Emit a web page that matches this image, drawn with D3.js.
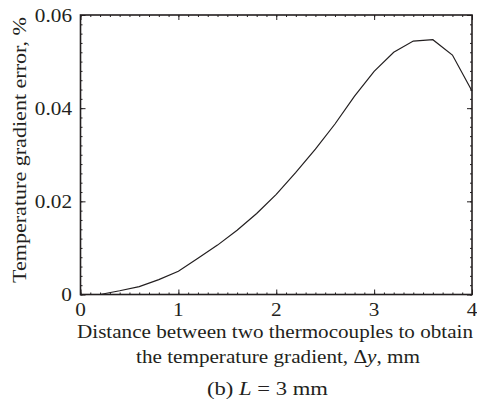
<!DOCTYPE html>
<html>
<head>
<meta charset="utf-8">
<script src="https://cdn.jsdelivr.net/npm/d3@7"></script>
<style>
  body { margin: 0; background: #fff; }
</style>
</head>
<body>
<div id="chart"></div>
<script>
// data
const spacing = [0.2, 0.4, 0.6, 0.8, 1.0, 1.2, 1.4, 1.6, 1.8, 2.0, 2.2, 2.4, 2.6, 2.8, 3.0, 3.2, 3.4, 3.6, 3.8, 4.0];
const gradError = [0, 0.0008, 0.0017, 0.0032, 0.0050, 0.0078, 0.0106, 0.0138, 0.0174, 0.0215, 0.0262, 0.0312, 0.0366, 0.0426, 0.0479, 0.0520, 0.0544, 0.0547, 0.0514, 0.0437];
const xTicks = [0, 1, 2, 3, 4];
const yTicks = [0, 0.02, 0.04, 0.06];
const yTickLabels = ["0", "0.02", "0.04", "0.06"];

const W = 477, H = 401;
const margin = { left: 80.5, right: 5, top: 15, bottom: 106.5 };
const ink = "#231f20";
const serif = "Liberation Serif, Times New Roman, serif";

const svg = d3.select("#chart").append("svg")
  .attr("width", W)
  .attr("height", H);

const x = d3.scaleLinear().domain([0, 4]).range([margin.left, W - margin.right]);
const y = d3.scaleLinear().domain([0, 0.06]).range([H - margin.bottom, margin.top]);

const minorX = d3.range(0, 4.0001, 0.1);
const minorY = d3.range(0, 0.06001, 0.002);

// the print font is wider than Liberation Serif, so stretch the text a bit
function widen(sel, k) {
  sel.each(function () {
    const w = this.getComputedTextLength();
    this.setAttribute("textLength", w * k);
    this.setAttribute("lengthAdjust", "spacingAndGlyphs");
  });
}
function fitTo(sel, w) {
  sel.attr("textLength", w).attr("lengthAdjust", "spacingAndGlyphs");
}

// minor + major ticks, inside, all four sides
function tickAxes(axisFn, scale, vals, size, transform) {
  svg.append("g")
    .attr("transform", transform)
    .call(axisFn(scale).tickValues(vals).tickSize(size).tickFormat(""))
    .call(g => g.select(".domain").remove())
    .call(g => g.selectAll("line").attr("stroke", ink).attr("stroke-width", 1));
}
const x0 = margin.left, x1 = W - margin.right, y0 = H - margin.bottom, y1 = margin.top;
tickAxes(d3.axisTop, x, minorX, 2, `translate(0,${y0})`);
tickAxes(d3.axisTop, x, xTicks, 5, `translate(0,${y0})`);
tickAxes(d3.axisBottom, x, minorX, 2, `translate(0,${y1})`);
tickAxes(d3.axisBottom, x, xTicks, 5, `translate(0,${y1})`);
tickAxes(d3.axisRight, y, minorY, 2, `translate(${x0},0)`);
tickAxes(d3.axisRight, y, yTicks, 5, `translate(${x0},0)`);
tickAxes(d3.axisLeft, y, minorY, 2, `translate(${x1},0)`);
tickAxes(d3.axisLeft, y, yTicks, 5, `translate(${x1},0)`);

// frame
svg.append("rect")
  .attr("x", x0).attr("y", y1)
  .attr("width", x1 - x0).attr("height", y0 - y1)
  .attr("fill", "none")
  .attr("stroke", ink)
  .attr("stroke-width", 1.6);

// tick labels
svg.selectAll(".xlab")
  .data(xTicks)
  .enter().append("text")
  .attr("class", "xlab")
  .attr("x", d => x(d))
  .attr("y", y0 + 21.5)
  .attr("text-anchor", "middle")
  .attr("font-family", serif)
  .attr("font-size", 18)
  .attr("fill", ink)
  .text(d => d)
  .call(widen, 1.18);

svg.selectAll(".ylab")
  .data(yTicks)
  .enter().append("text")
  .attr("class", "ylab")
  .attr("x", x0 - 8.5)
  .attr("y", d => y(d) + 6.5)
  .attr("text-anchor", "end")
  .attr("font-family", serif)
  .attr("font-size", 18)
  .attr("fill", ink)
  .text((d, i) => yTickLabels[i])
  .call(widen, 1.18);

// curve
const line = d3.line()
  .x((d, i) => x(spacing[i]))
  .y(d => y(d));

svg.append("path")
  .datum(gradError)
  .attr("d", line)
  .attr("fill", "none")
  .attr("stroke", ink)
  .attr("stroke-width", 1.2);

// axis titles
svg.append("text")
  .attr("x", 275)
  .attr("y", 338)
  .attr("text-anchor", "middle")
  .attr("font-family", serif)
  .attr("font-size", 19.5)
  .attr("fill", ink)
  .text("Distance between two thermocouples to obtain")
  .call(fitTo, 396);

const l2 = svg.append("text")
  .attr("x", 278)
  .attr("y", 362.5)
  .attr("text-anchor", "middle")
  .attr("font-family", serif)
  .attr("font-size", 19.5)
  .attr("fill", ink);
l2.append("tspan").text("the temperature gradient, \u0394");
l2.append("tspan").attr("font-style", "italic").text("y");
l2.append("tspan").text(", mm");
l2.call(fitTo, 284);

const cap = svg.append("text")
  .attr("x", 267.5)
  .attr("y", 395)
  .attr("text-anchor", "middle")
  .attr("font-family", serif)
  .attr("font-size", 19.5)
  .attr("fill", ink);
cap.append("tspan").text("(b) ");
cap.append("tspan").attr("font-style", "italic").text("L");
cap.append("tspan").text(" = 3 mm");
cap.call(fitTo, 121);

svg.append("text")
  .attr("transform", "translate(26,150) rotate(-90)")
  .attr("text-anchor", "middle")
  .attr("font-family", serif)
  .attr("font-size", 19.5)
  .attr("fill", ink)
  .text("Temperature gradient error, %")
  .call(fitTo, 266);
</script>
</body>
</html>
